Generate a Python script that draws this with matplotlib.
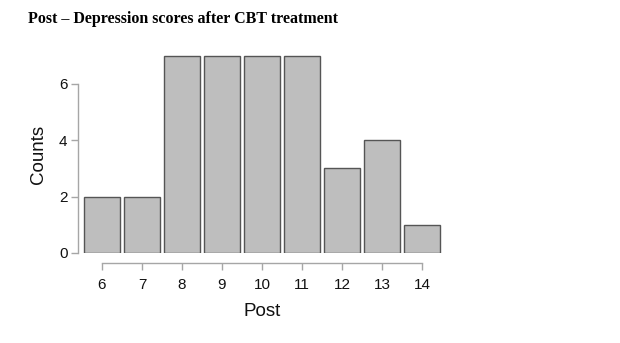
import matplotlib
matplotlib.use("Agg")
import matplotlib.pyplot as plt

# Data
scores = [6, 7, 8, 9, 10, 11, 12, 13, 14]
counts = [2, 2, 7, 7, 7, 7, 3, 4, 1]
y_ticks = [0, 2, 4, 6]
title = "Post \u2013 Depression scores after CBT treatment"
x_label = "Post"
y_label = "Counts"

W, H = 620, 343
fig = plt.figure(figsize=(W / 100, H / 100), dpi=100)
left, right, top, bottom = 78, 446, 55, 253
ax = fig.add_axes([left / W, (H - bottom) / H, (right - left) / W, (bottom - top) / H])

ax.bar(scores, counts, width=0.9, color="#BEBEBE", edgecolor="#555555", linewidth=1.0, zorder=2)

ax.set_xlim(5.4, 14.6)
ax.set_ylim(0, 7.02)
ax.set_xticks(scores)
ax.set_yticks(y_ticks)

for s in ["top", "right"]:
    ax.spines[s].set_visible(False)
spine_col = "#A6A6A6"
ax.spines["left"].set_color(spine_col)
ax.spines["bottom"].set_color(spine_col)
ax.spines["left"].set_linewidth(1.0)
ax.spines["bottom"].set_linewidth(1.0)
ax.spines["left"].set_bounds(0, 6)
ax.spines["bottom"].set_bounds(6, 14)
ax.spines["bottom"].set_position(("outward", 7.2))

tick_font = "Liberation Sans"
ax.tick_params(axis="both", color=spine_col, width=1.0, length=5, labelsize=11, labelcolor="#111111")
ax.tick_params(axis="x", pad=5.5)
ax.tick_params(axis="y", pad=2.5)
for lab in ax.get_xticklabels() + ax.get_yticklabels():
    lab.set_fontfamily(tick_font)

ax.set_xlabel(x_label, fontsize=13.5, fontfamily=tick_font, color="#111111")
ax.set_ylabel(y_label, fontsize=13.5, fontfamily=tick_font, color="#111111")
ax.xaxis.set_label_coords(0.5, (bottom - 303) / (bottom - top))
ax.yaxis.set_label_coords((47 - left) / (right - left), 0.5)

fig.text(28 / W, 1 - 23 / H, title, fontsize=11.5, fontweight="bold",
         fontfamily="Liberation Serif", ha="left", va="baseline", color="black")

fig.savefig("out.png", dpi=100)
